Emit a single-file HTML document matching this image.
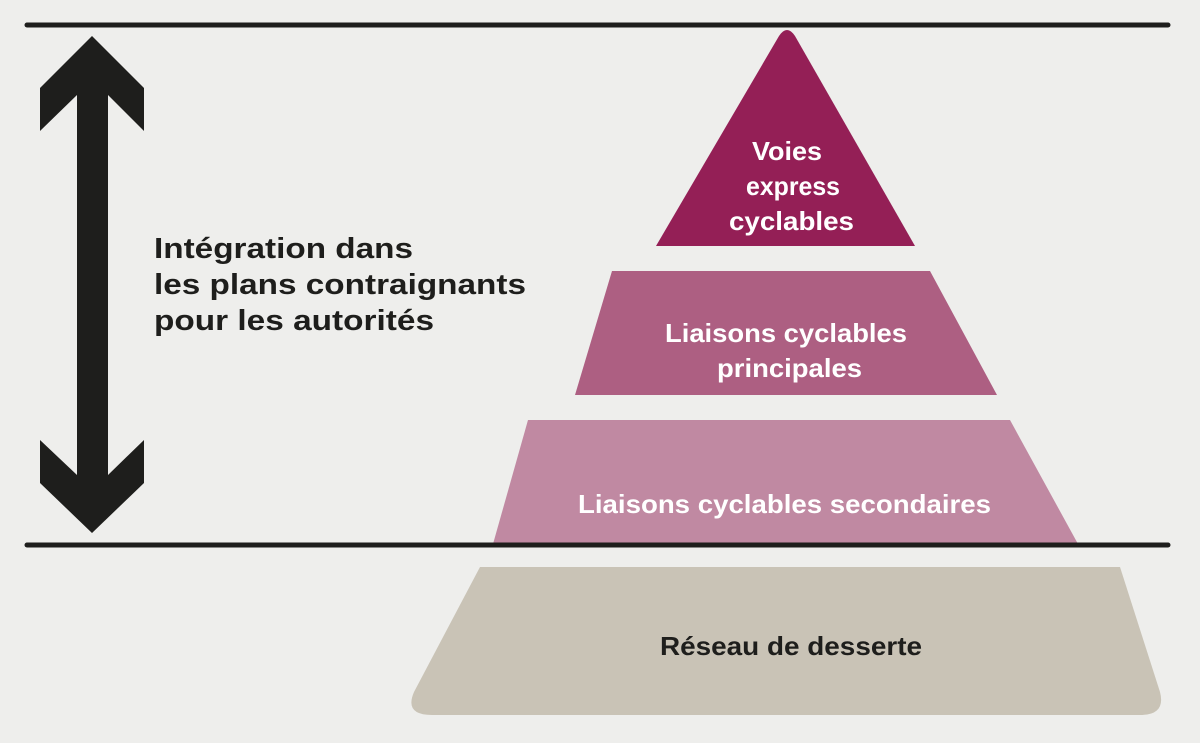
<!DOCTYPE html>
<html><head><style>
html,body{margin:0;padding:0;background:#eeeeec;}
svg{display:block}
text{font-family:"Liberation Sans",Arial,sans-serif;font-weight:bold;font-size:26px;}
</style></head><body>
<svg width="1200" height="743" viewBox="0 0 1200 743">
<rect width="1200" height="743" fill="#eeeeec"/>
<path d="M656,246 L779,36 Q787,24 795,36 L915,246 Z" fill="#941f56"/>
<polygon points="612,271 930,271 997,395 575,395" fill="#ad5f82"/>
<polygon points="528,420 1010,420 1078,544 493,544" fill="#c089a2"/>
<path d="M480,567 L1120,567 L1160,692 Q1166,715 1140,715 L432,715 Q404,715 414,692 Z" fill="#c9c3b6"/>
<line x1="27" y1="25" x2="1168" y2="25" stroke="#1e1e1c" stroke-width="5" stroke-linecap="round"/>
<line x1="27" y1="545" x2="1168" y2="545" stroke="#1e1e1c" stroke-width="5" stroke-linecap="round"/>
<polygon points="92,36 144,88 144,131 108,95 108,475 144,440 144,483 92,533 40,483 40,440 77,475 77,95 40,131 40,88" fill="#1e1e1c"/>
<g fill="#1e1e1c">
<text x="154" y="258" style="font-size:29px" textLength="259" lengthAdjust="spacingAndGlyphs">Intégration dans</text>
<text x="154" y="294" style="font-size:29px" textLength="372" lengthAdjust="spacingAndGlyphs">les plans contraignants</text>
<text x="154" y="330" style="font-size:29px" textLength="280" lengthAdjust="spacingAndGlyphs">pour les autorités</text>
</g>
<g fill="#ffffff">
<text x="752" y="160" textLength="70" lengthAdjust="spacingAndGlyphs">Voies</text>
<text x="746" y="195" textLength="94" lengthAdjust="spacingAndGlyphs">express</text>
<text x="729" y="230" textLength="125" lengthAdjust="spacingAndGlyphs">cyclables</text>
<text x="665" y="342" textLength="242" lengthAdjust="spacingAndGlyphs">Liaisons cyclables</text>
<text x="717" y="377" textLength="145" lengthAdjust="spacingAndGlyphs">principales</text>
<text x="578" y="513" textLength="413" lengthAdjust="spacingAndGlyphs">Liaisons cyclables secondaires</text>
</g>
<text x="660" y="655" fill="#1e1e1c" textLength="262" lengthAdjust="spacingAndGlyphs">Réseau de desserte</text>
</svg>
</body></html>
